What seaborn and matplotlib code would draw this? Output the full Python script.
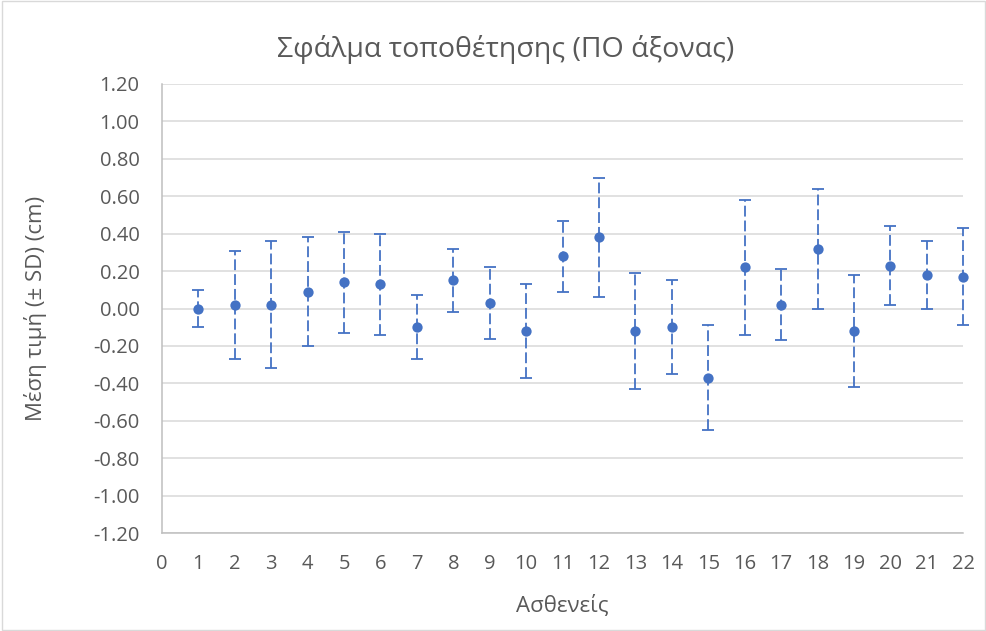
# Import libraries
import seaborn as sns
import matplotlib.pyplot as plt
import pandas as pd

# Patients (x positions) and mean positioning error +/- SD (cm)
patients = list(range(1, 23))
means = [0.00, 0.02, 0.02, 0.09, 0.14, 0.13, -0.10, 0.15, 0.03, -0.12, 0.28,
         0.38, -0.12, -0.10, -0.37, 0.22, 0.02, 0.32, -0.12, 0.23, 0.18, 0.17]
sds = [0.10, 0.29, 0.34, 0.29, 0.27, 0.27, 0.17, 0.17, 0.19, 0.25, 0.19,
       0.32, 0.31, 0.25, 0.28, 0.36, 0.19, 0.32, 0.30, 0.21, 0.18, 0.26]
x_ticks = list(range(0, 23))
y_ticks = [-1.2, -1.0, -0.8, -0.6, -0.4, -0.2, 0.0, 0.2, 0.4, 0.6, 0.8, 1.0, 1.2]

df = pd.DataFrame({'patient': patients, 'mean': means, 'sd': sds})

blue = '#4472C4'
grey_text = '#595959'

sns.set_style('white')
plt.rcParams['font.family'] = ['Open Sans', 'DejaVu Sans']

fig = plt.figure(figsize=(9.87, 6.31), dpi=100)
ax = fig.add_axes([0.164, 0.155, 0.812, 0.712])

# error bars (+/- SD), dashed like the original
eb = ax.errorbar(df['patient'], df['mean'], yerr=df['sd'], fmt='none',
                 ecolor=blue, elinewidth=1.3, capsize=4.3, capthick=1.3,
                 zorder=3, clip_on=False)
eb[2][0].set_linestyle((0, (6, 2.2)))

# mean values as points
sns.scatterplot(data=df, x='patient', y='mean', color=blue, s=55,
                edgecolor=blue, linewidth=0, zorder=4, ax=ax, clip_on=False)

ax.set_xlim(0, 22)
ax.set_ylim(-1.2, 1.2)
ax.set_xticks(x_ticks)
ax.set_yticks(y_ticks)
ax.set_yticklabels(['%.2f' % v for v in y_ticks])
ax.yaxis.grid(True, color='#D9D9D9', linewidth=1.1)
ax.set_axisbelow(True)
for side in ['top', 'right']:
    ax.spines[side].set_visible(False)
for side in ['left', 'bottom']:
    ax.spines[side].set_color('#BFBFBF')
    ax.spines[side].set_linewidth(1.1)
ax.tick_params(axis='both', length=0, colors=grey_text, labelsize=14.5)
ax.tick_params(axis='x', pad=15)
ax.tick_params(axis='y', pad=16)

fig.text(0.512, 1 - 57 / 631, 'Σφάλμα τοποθέτησης (ΠΟ άξονας)', fontsize=20.5,
         color=grey_text, ha='center', va='baseline')
ax.set_xlabel('Ασθενείς', fontsize=16, color=grey_text, labelpad=15)
ax.set_ylabel('Μέση τιμή (± SD) (cm)', fontsize=16, color=grey_text)
ax.yaxis.set_label_coords(-0.143, 0.5)

# thin border around the whole chart
fig.patches.append(plt.Rectangle((0.002, 0.002), 0.996, 0.996, transform=fig.transFigure,
                                 fill=False, edgecolor='#D9D9D9', linewidth=1))

plt.savefig('out.png', dpi=100)
